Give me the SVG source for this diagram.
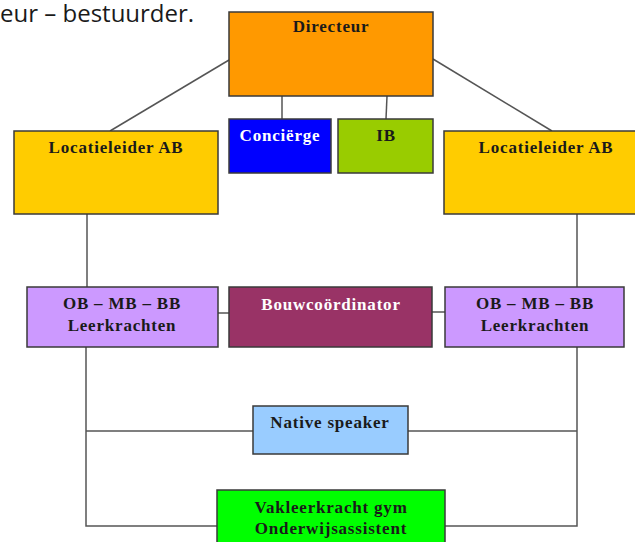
<svg xmlns="http://www.w3.org/2000/svg" width="635" height="542" viewBox="0 0 635 542">
<style>
.box{stroke:#3a3a3a;stroke-width:1.5}
.t{font-family:"Liberation Serif","Times New Roman",serif;font-weight:bold;font-size:17px;text-anchor:middle;fill:#1a1a1a;letter-spacing:0.8px}
.w{fill:#ffffff}
.ln{stroke:#555555;stroke-width:1.5;fill:none}
</style>
<rect width="635" height="542" fill="#ffffff"/>
<text x="0" y="22" font-family="'Open Sans','Noto Sans',sans-serif" font-size="24" fill="#1a1a1a">eur – bestuurder.</text>
<g id="connectors">
<line class="ln" x1="229" y1="60" x2="110" y2="131"/>
<line class="ln" x1="433" y1="59" x2="552" y2="131"/>
<line class="ln" x1="282" y1="96" x2="282" y2="119"/>
<line class="ln" x1="387" y1="96" x2="386" y2="119"/>
<line class="ln" x1="87" y1="214" x2="87" y2="287"/>
<line class="ln" x1="577" y1="214" x2="577" y2="287"/>
<line class="ln" x1="218" y1="313" x2="229" y2="313"/>
<line class="ln" x1="432" y1="312" x2="445" y2="312"/>
<polyline class="ln" points="86,337 86,526 217,526"/>
<polyline class="ln" points="577,337 577,526 445,526"/>
<line class="ln" x1="86" y1="431" x2="253" y2="431"/>
<line class="ln" x1="408" y1="431" x2="577" y2="431"/>
</g>
<g id="directeur">
<rect class="box" x="229" y="12" width="204" height="84" fill="#ff9900"/>
<text class="t" x="331" y="32">Directeur</text>
</g>
<g id="locatieleider-links">
<rect class="box" x="14" y="131" width="204" height="83" fill="#ffcc00"/>
<text class="t" x="116" y="153">Locatieleider AB</text>
</g>
<g id="locatieleider-rechts">
<rect class="box" x="444" y="131" width="204" height="83" fill="#ffcc00"/>
<text class="t" x="546" y="153">Locatieleider AB</text>
</g>
<g id="concierge">
<rect class="box" x="229" y="119" width="102" height="54" fill="#0000ff"/>
<text class="t w" x="280" y="141">Conciërge</text>
</g>
<g id="ib">
<rect class="box" x="338" y="119" width="95" height="54" fill="#99cc00"/>
<text class="t" x="386" y="141">IB</text>
</g>
<g id="leerkrachten-links">
<rect class="box" x="27" y="287" width="191" height="60" fill="#cc99ff"/>
<text class="t" x="122" y="309">OB – MB – BB</text>
<text class="t" x="122" y="331">Leerkrachten</text>
</g>
<g id="bouwcoordinator">
<rect class="box" x="229" y="287" width="203" height="60" fill="#993366"/>
<text class="t w" x="331" y="310">Bouwcoördinator</text>
</g>
<g id="leerkrachten-rechts">
<rect class="box" x="445" y="287" width="179" height="60" fill="#cc99ff"/>
<text class="t" x="535" y="309">OB – MB – BB</text>
<text class="t" x="535" y="331">Leerkrachten</text>
</g>
<g id="native-speaker">
<rect class="box" x="253" y="406" width="155" height="48" fill="#99ccff"/>
<text class="t" x="330" y="428">Native speaker</text>
</g>
<g id="vakleerkracht">
<rect class="box" x="217" y="490" width="228" height="60" fill="#00ff00"/>
<text class="t" x="331" y="513">Vakleerkracht gym</text>
<text class="t" x="331" y="534">Onderwijsassistent</text>
</g>
</svg>
